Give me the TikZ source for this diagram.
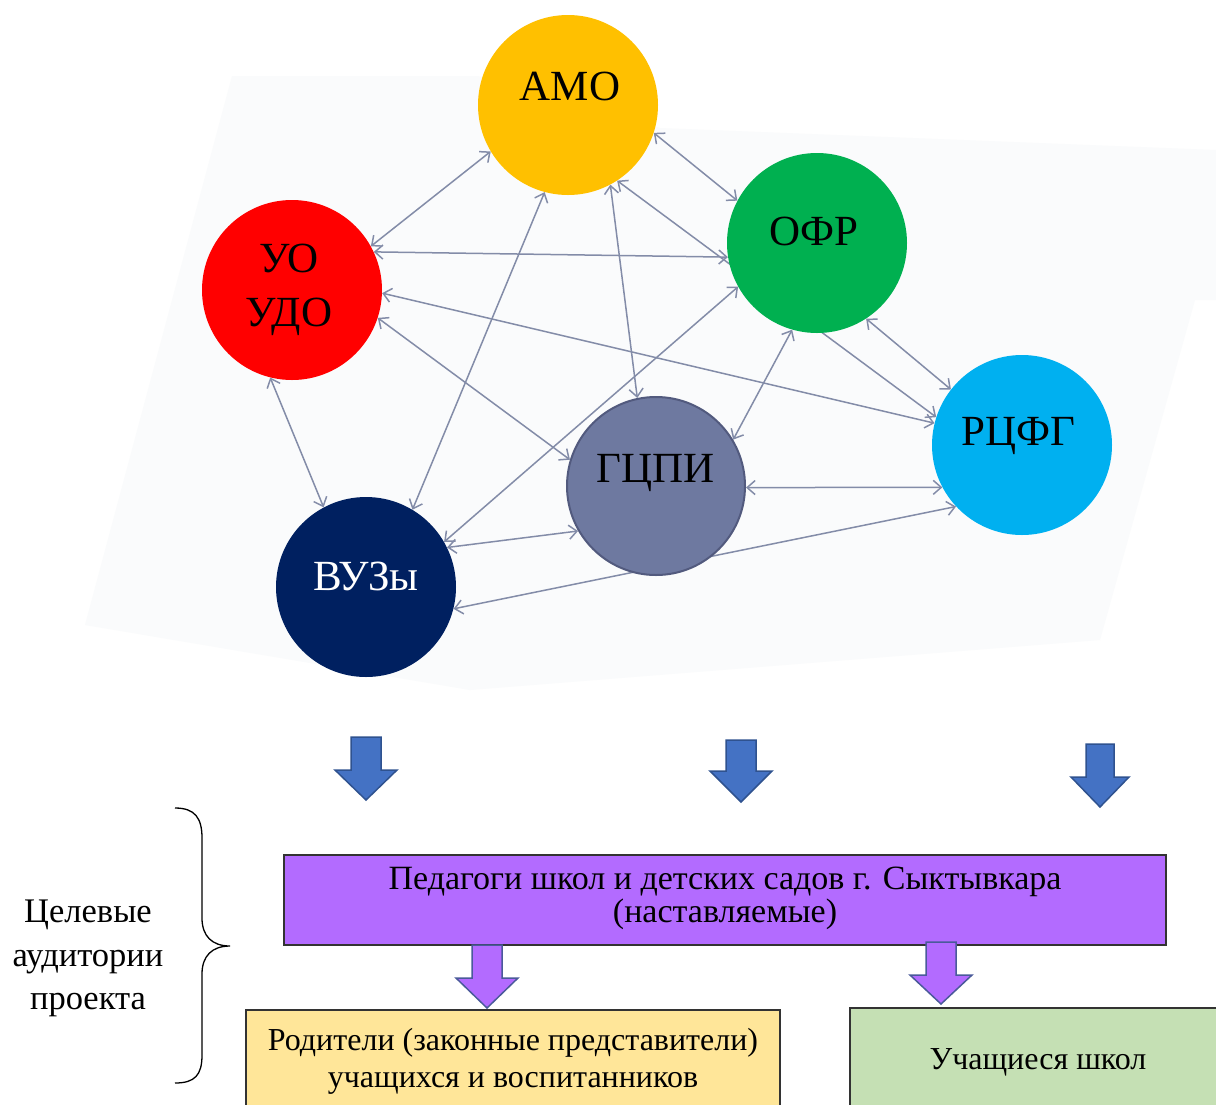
\documentclass[tikz,border=0pt]{standalone}
\usepackage{fontspec}
\setmainfont{Liberation Serif}
\usetikzlibrary{arrows.meta}
\pgfdeclarelayer{back}
\pgfdeclarelayer{mid}
\pgfsetlayers{back,mid,main}
\definecolor{amoc}{HTML}{FFC000}
\definecolor{uoc}{HTML}{FF0000}
\definecolor{ofrc}{HTML}{00B050}
\definecolor{rcc}{HTML}{00B0F0}
\definecolor{gcc}{HTML}{6E79A0}
\definecolor{gcb}{HTML}{525A7E}
\definecolor{vuc}{HTML}{002060}
\definecolor{linkc}{HTML}{838CA8}
\definecolor{bluearr}{HTML}{4472C4}
\definecolor{bluearrb}{HTML}{2F528F}
\definecolor{purp}{HTML}{B36BFF}
\definecolor{purpb}{HTML}{4A5A9A}
\definecolor{yelbox}{HTML}{FFE699}
\definecolor{grnbox}{HTML}{C5E0B4}
\definecolor{faint}{HTML}{FAFBFC}
\newcommand{\myDownArrow}[6]{%
  \filldraw[#6] (#1-#5,#2) -- (#1+#5,#2) -- (#1+#5,#3) -- (#1+2*#5+1,#3) -- (#1,#4) -- (#1-2*#5-1,#3) -- (#1-#5,#3) -- cycle;}
\begin{document}
\begin{tikzpicture}[x=1pt,y=-1pt,
  circ/.style={circle, minimum size=180pt, inner sep=0pt},
  ctext/.style={anchor=base, font=\fontsize{43}{46}\selectfont, inner sep=0pt},
  btext/.style={anchor=base, font=\fontsize{32}{34}\selectfont, inner sep=0pt},
  ltext/.style={anchor=base, font=\fontsize{34.5}{36}\selectfont, inner sep=0pt},
  ptext/.style={anchor=base, font=\fontsize{34}{36}\selectfont, inner sep=0pt},
  link/.style={draw=linkc, line width=1.5pt,
    {Straight Barb[length=8pt,width=14pt]}-{Straight Barb[length=8pt,width=14pt]}},
  boxs/.style={draw=black!80, line width=1.2pt, inner sep=0pt}]
\useasboundingbox (0,0) rectangle (1216,1104);
\begin{pgfonlayer}{back}
\fill[white] (0,0) rectangle (1216,1104);
\fill[faint] (232,76) -- (478,76) -- (660,128) -- (1216,150) -- (1216,300) -- (1195,300) -- (1100,640) -- (470,690) -- (85,625) -- cycle;
\end{pgfonlayer}

% circles
\node[circ, fill=amoc] (amo) at (568,105) {};
\node[circ, fill=uoc] (uo) at (292,290) {};
\node[circ, fill=ofrc] (ofr) at (817,243) {};
\node[circ, fill=rcc] (rc) at (1022,445) {};
\node[circ, fill=gcc, draw=gcb, line width=2pt, minimum size=178pt] (gc) at (656,486) {};
\node[circ, fill=vuc] (vu) at (366,587) {};

\node[ctext] (amoT) at (570,100) {АМО};
\node[ctext] (uoT1) at (289,272) {УО};
\node[ctext] (uoT2) at (289,326) {УДО};
\node[ctext] (ofrT) at (814,245) {ОФР};
\node[ctext] (rcT) at (1018,445) {РЦФГ};
\node[ctext] (gcT) at (656,482) {ГЦПИ};
\node[ctext, text=white] (vuT) at (366,590) {ВУЗы};

% connectors
\begin{pgfonlayer}{mid}
\draw[link] (amo.211) -- (uo.29);
\draw[link] (amo.-18) -- (ofr.152);
\draw[link] (amo.255) -- (vu.59);
\draw[link] (amo.-62) -- (gc.102);
\draw[link] (amo.-57) -- (rc.162);
\draw[link] (uo.25) -- (ofr.189);
\draw[link] (uo.-2) -- (rc.166);
\draw[link] (uo.-18) -- (gc.163);
\draw[link] (uo.-104) -- (vu.118);
\draw[link] (vu.30) -- (ofr.209);
\draw[link] (vu.26) -- (gc.210);
\draw[link] (vu.-14) -- (rc.223);
\draw[link] (gc.-1) -- (rc.208);
\draw[link] (gc.31) -- (ofr.254);
\draw[link] (ofr.-57) -- (rc.142);
\end{pgfonlayer}

% blue block arrows
\myDownArrow{366}{737}{770}{800}{15}{fill=bluearr, draw=bluearrb, line width=1.5pt}
\myDownArrow{741}{740}{771}{802}{15}{fill=bluearr, draw=bluearrb, line width=1.5pt}
\myDownArrow{1100}{744}{777}{807}{14}{fill=bluearr, draw=bluearrb, line width=1.5pt}

% boxes
\node[boxs, fill=purp, minimum width=882pt, minimum height=90pt] (ped) at (725,900) {};
\node[ptext] (pedT1) at (725,889) {Педагоги школ и детских садов г. Сыктывкара};
\node[ptext] (pedT2) at (725,922) {(наставляемые)};

\node[boxs, fill=yelbox, minimum width=534pt, minimum height=110pt] (par) at (513,1065) {};
\node[btext] (parT1) at (513,1050) {Родители (законные представители)};
\node[btext] (parT2) at (513,1087) {учащихся и воспитанников};

\node[boxs, fill=grnbox, minimum width=380pt, minimum height=110pt] (stu) at (1040,1063) {};
\node[btext] (stuT) at (1038,1069) {Учащиеся школ};

% purple block arrows
\myDownArrow{487}{945}{978}{1008}{15}{fill=purp, draw=purpb, line width=1.5pt}
\myDownArrow{941}{942}{975}{1004}{15}{fill=purp, draw=purpb, line width=1.5pt}

% brace and side label
\draw[line width=1.3pt] (175,808) .. controls (195,808) and (202,818) .. (202,838)
  -- (202,918) .. controls (202,936) and (212,946) .. (230,946)
  .. controls (212,946) and (202,956) .. (202,974)
  -- (202,1055) .. controls (202,1075) and (195,1083) .. (175,1083);
\node[ltext] (tg1) at (88,922) {Целевые};
\node[ltext] (tg2) at (88,966) {аудитории};
\node[ltext] (tg3) at (88,1009) {проекта};
\end{tikzpicture}
\end{document}
